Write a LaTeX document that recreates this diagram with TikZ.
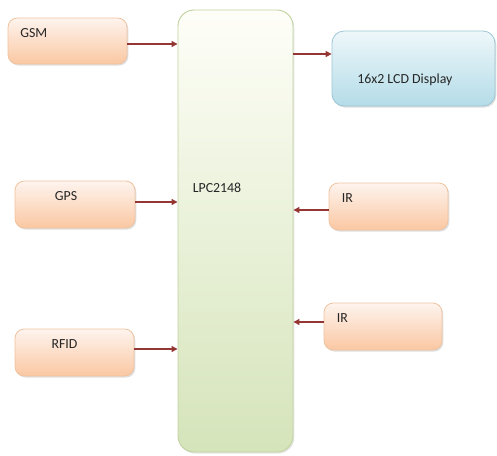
\documentclass[tikz,border=0pt]{standalone}
\usepackage{fontspec}
\setmainfont{Carlito}
\usetikzlibrary{shadows,arrows.meta}
\definecolor{arrc}{HTML}{943634}
\definecolor{orTop}{HTML}{FEF4EE}
\definecolor{orBot}{HTML}{FAC7A2}
\definecolor{orLine}{HTML}{EFC3A0}
\definecolor{blTop}{HTML}{EEF7FA}
\definecolor{blBot}{HTML}{B4DCE8}
\definecolor{blLine}{HTML}{9CC6D4}
\definecolor{grTop}{HTML}{FEFEF8}
\definecolor{grBot}{HTML}{D5E4BA}
\definecolor{grLine}{HTML}{C2D3A0}
\tikzset{
  obox/.style={rectangle, rounded corners=7pt, draw=orLine, line width=0.6pt,
    top color=orTop, bottom color=orBot, inner sep=0pt,
    drop shadow={opacity=0.25, shadow xshift=1pt, shadow yshift=-1.2pt}},
  bbox/.style={rectangle, rounded corners=9pt, draw=blLine, line width=0.6pt,
    top color=blTop, bottom color=blBot, inner sep=0pt,
    drop shadow={opacity=0.25, shadow xshift=1pt, shadow yshift=-1.2pt}},
  gbox/.style={rectangle, rounded corners=12pt, draw=grLine, line width=0.7pt,
    top color=grTop, bottom color=grBot, inner sep=0pt,
    drop shadow={opacity=0.2, shadow xshift=1pt, shadow yshift=-1.2pt}},
  lbl/.style={inner sep=0pt, font=\fontsize{10.4}{12}\selectfont, text=black!85},
  arr/.style={draw=arrc, line width=1pt, -{Triangle[length=4.5pt,width=4.5pt]}}
}
\begin{document}
\begin{tikzpicture}[x=0.75pt,y=-0.75pt]
\useasboundingbox (0,0) rectangle (497,455);
% boxes
\node[gbox, minimum width=115*0.75pt, minimum height=442*0.75pt] (lpc) at (235.5,231) {};
\node[obox, minimum width=119*0.75pt, minimum height=46*0.75pt] (gsm) at (67.5,41) {};
\node[bbox, minimum width=163*0.75pt, minimum height=75*0.75pt] (lcd) at (413.5,68.5) {};
\node[obox, minimum width=120*0.75pt, minimum height=47*0.75pt] (gps) at (75,204.5) {};
\node[obox, minimum width=119*0.75pt, minimum height=47*0.75pt] (ir1) at (388.5,206.5) {};
\node[obox, minimum width=118*0.75pt, minimum height=47*0.75pt] (ir2) at (383,326.5) {};
\node[obox, minimum width=119*0.75pt, minimum height=47*0.75pt] (rfid) at (74.5,352.5) {};
% labels
\node[lbl, anchor=west] (tgsm) at (20,33) {GSM};
\node[lbl, anchor=west] (tlcd) at (357,80) {16x2 LCD Display};
\node[lbl] (tgps) at (66,196.5) {GPS};
\node[lbl, anchor=west] (tir1) at (341.5,198.5) {IR};
\node[lbl, anchor=west] (tir2) at (336.5,318.5) {IR};
\node[lbl] (trfid) at (64.5,344.5) {RFID};
\node[lbl, anchor=west] (tlpc) at (192.5,187.5) {LPC2148};
% connectors
\draw[arr] ([yshift=-3*0.75pt]gsm.east) -- ([yshift=-3*0.75pt]gsm.east -| lpc.west);
\draw[arr] ([yshift=14.5*0.75pt]lcd.west -| lpc.east) -- ([yshift=14.5*0.75pt]lcd.west);
\draw[arr] ([yshift=2.5*0.75pt]gps.east) -- ([yshift=2.5*0.75pt]gps.east -| lpc.west);
\draw[arr] ([yshift=-3.5*0.75pt]ir1.west) -- ([yshift=-3.5*0.75pt]ir1.west -| lpc.east);
\draw[arr] ([yshift=4.5*0.75pt]ir2.west) -- ([yshift=4.5*0.75pt]ir2.west -| lpc.east);
\draw[arr] ([yshift=3.5*0.75pt]rfid.east) -- ([yshift=3.5*0.75pt]rfid.east -| lpc.west);
\end{tikzpicture}
\end{document}
